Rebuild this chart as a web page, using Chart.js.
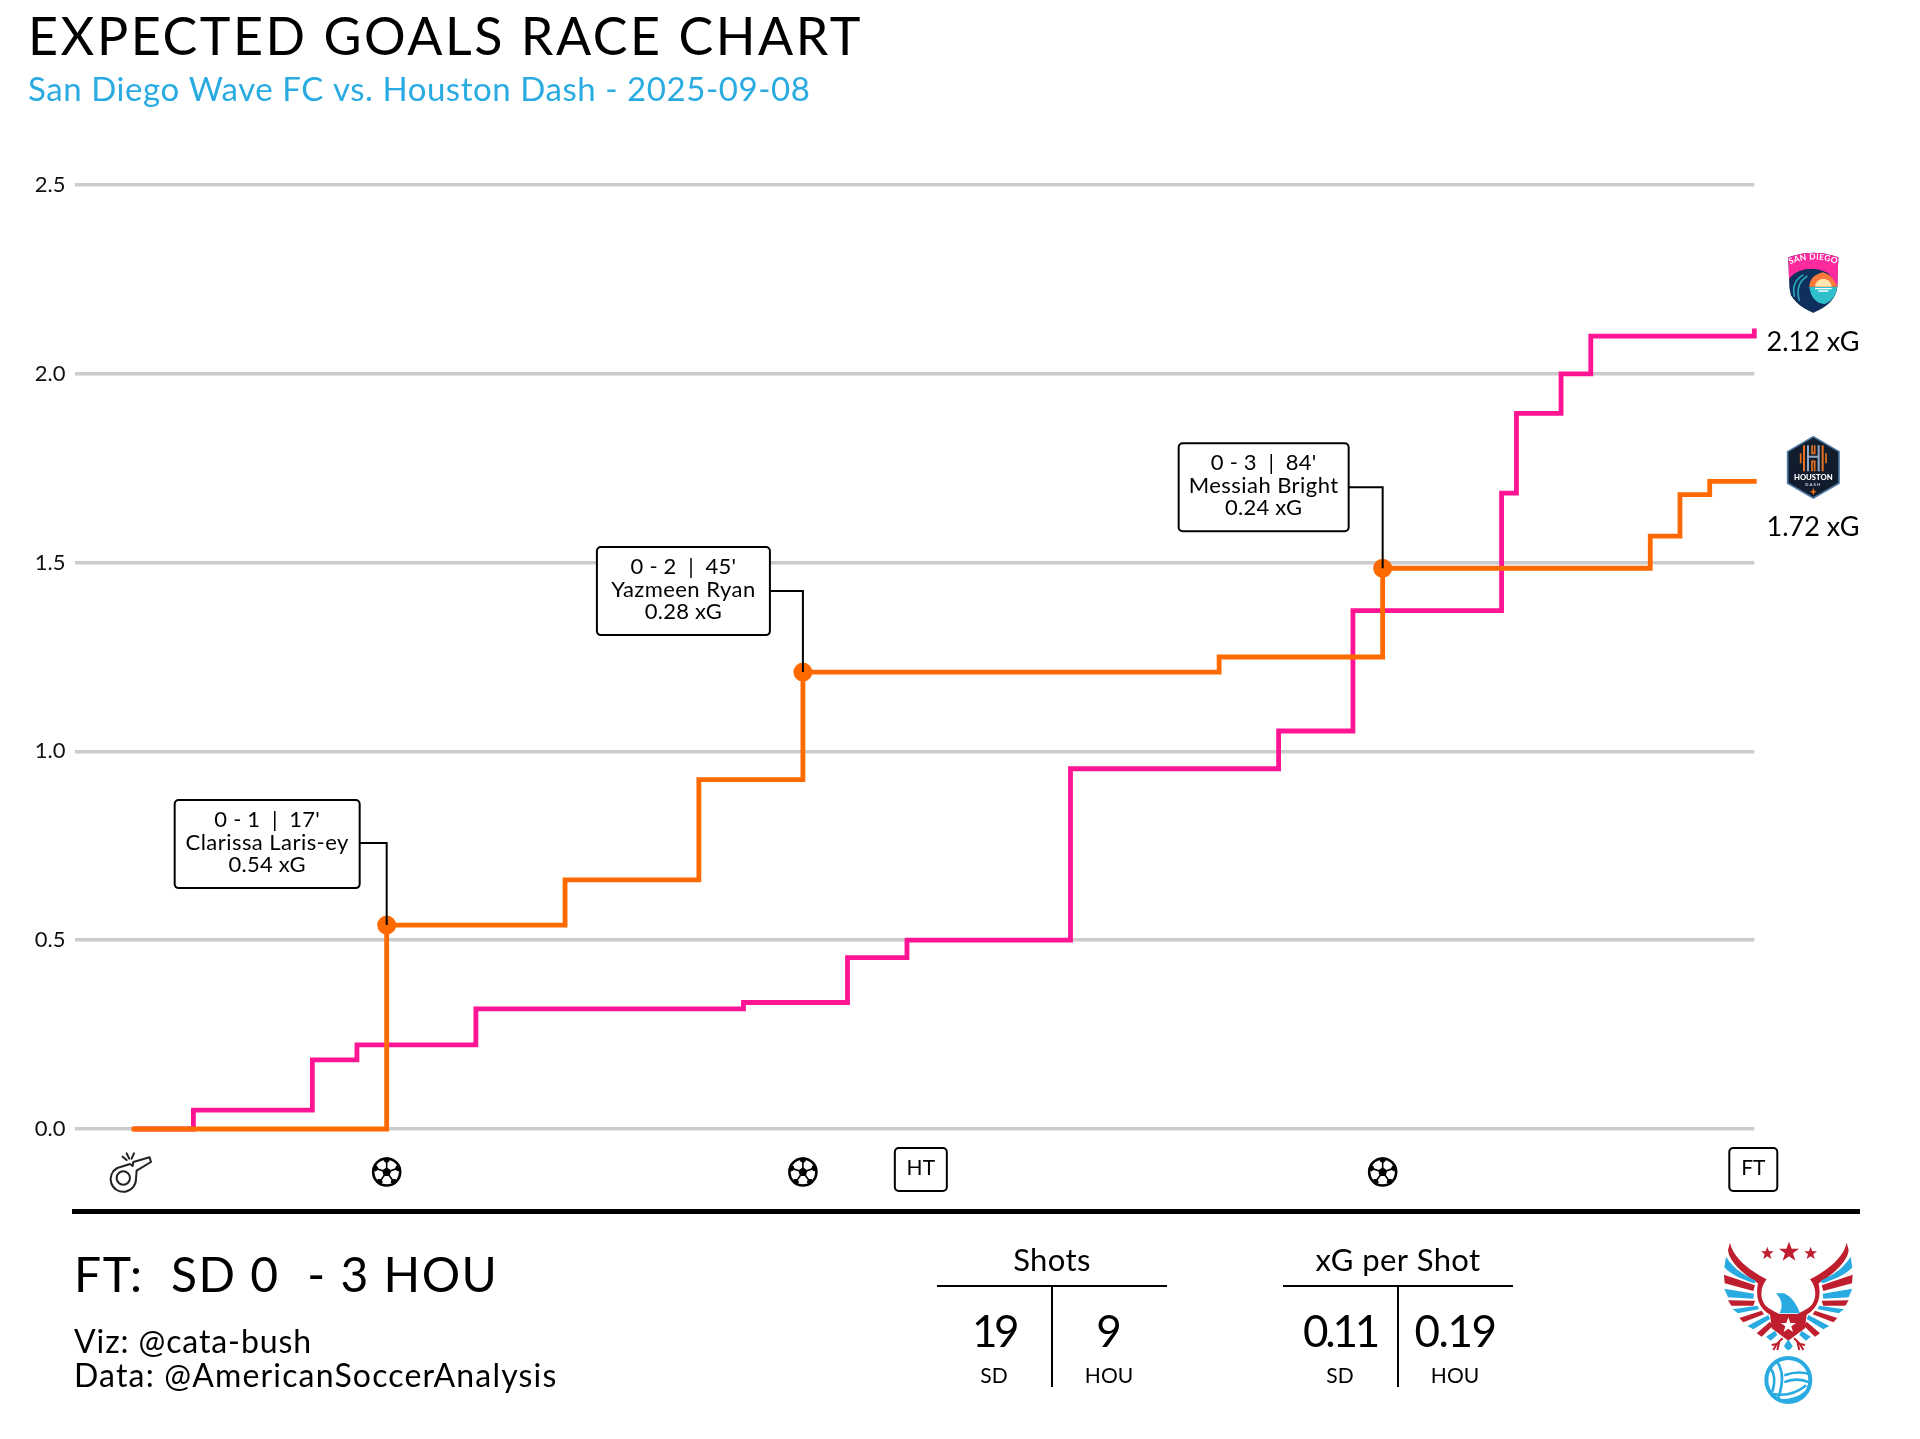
<!DOCTYPE html>
<html>
<head>
<meta charset="utf-8">
<title>Expected Goals Race Chart</title>
<script src="https://cdn.jsdelivr.net/npm/chart.js@4"></script>
<style>
html,body{margin:0;padding:0;background:#fff;width:1920px;height:1439px;overflow:hidden}
#wrap{position:relative;width:1920px;height:1439px}
canvas{position:absolute;left:0;top:0}
#logos{position:absolute;left:0;top:0;pointer-events:none}
</style>
</head>
<body>
<div id="wrap">
<canvas id="c" width="1920" height="1439"></canvas>
<svg id="logos" width="1920" height="1439" viewBox="0 0 1920 1439" xmlns="http://www.w3.org/2000/svg">
  <!-- San Diego crest -->
  <g transform="translate(1760,240) scale(0.3333)">
    <path d="M85,52 Q160,24 235,52 L232,140 Q228,190 160,218 Q92,190 88,140 Z" fill="#0f2f5c"/>
    <path d="M85,52 Q160,24 235,52 L232,140 L205,100 Q160,78 120,92 Q100,100 87,116 Z" fill="#ff2a9d"/>
    <path d="M232,140 Q228,178 195,192 Q155,190 148,140 Z" fill="#2fc0cc"/>
    <path d="M148,140 Q150,105 190,97 Q218,105 232,140 Z" fill="#ff7a3a"/>
    <path d="M165,140 Q168,118 190,116 Q212,118 215,140 Z" fill="#ffe6b0"/>
    <path d="M165,146 H215 M175,153 H205" stroke="#fff" stroke-width="4"/>
    <path d="M92,125 Q118,93 150,98 Q122,118 128,155 Q140,190 192,192 Q175,208 160,218 Q112,198 92,165 Z" fill="#0f2f5c"/>
    <path d="M104,170 Q92,128 130,104 M118,182 Q104,132 142,108" fill="none" stroke="#2aa7b8" stroke-width="5"/>
    <path id="sdArc" d="M92,72 Q160,45 228,72" fill="none"/>
    <text font-family="Lato" font-size="25" font-weight="700" fill="#fff" letter-spacing="1"><textPath href="#sdArc" startOffset="50%" text-anchor="middle">SAN DIEGO</textPath></text>
  </g>
  <!-- Houston crest -->
  <g transform="translate(1760,240) scale(0.3333)">
    <path d="M160,590 L237,635 L237,730 L160,774 L83,730 L83,635 Z" fill="#111d2d" stroke="#4f78a5" stroke-width="5"/>
    <path d="M132,616 V694 M188,616 V694" stroke="#e8701e" stroke-width="6" fill="none"/>
    <path d="M144,616 V694 M176,616 V694 M144,650 H176" stroke="#93aac4" stroke-width="6" fill="none"/>
    <path d="M156,616 V640 H164 V616 M156,694 V664 H164 V694" stroke="#e8701e" stroke-width="5" fill="none"/>
    <path d="M122,640 V670 M198,640 V670" stroke="#e8701e" stroke-width="5"/>
    <text x="160" y="720" text-anchor="middle" font-family="Lato" font-size="23" font-weight="900" fill="#fff">HOUSTON</text>
    <text x="160" y="738" text-anchor="middle" font-family="Lato" font-size="13" font-weight="700" letter-spacing="3" fill="#c8d2de">DASH</text>
    <path d="M160,744 L163,752 L170,755 L163,758 L160,766 L157,758 L150,755 L157,752Z" fill="#e8701e"/>
  </g>
  <!-- Publisher crest -->
  <g transform="translate(1720,1240) scale(0.3333)">
    <defs>
      <g id="wing">
        <path d="M30,8 C40,55 90,92 140,118 C122,140 118,172 135,195 C148,208 165,215 178,222 L172,236 C130,218 102,190 114,130 C85,112 28,72 24,30 Z" fill="#bf1e2e"/>
        <path d="M18,50 C40,85 70,105 108,122 L103,130 C70,120 30,102 13,82 Z" fill="#29abe2"/>
        <path d="M12,104 L105,136 L100,153 L14,130 Z" fill="#bf1e2e"/>
        <path d="M13,146 L102,161 L100,176 L24,172 Z" fill="#29abe2"/>
        <path d="M24,181 L105,182 L100,197 L34,197 Z" fill="#bf1e2e"/>
        <path d="M38,208 L112,197 L118,207 L54,220 Z" fill="#29abe2"/>
        <path d="M58,234 L125,212 L132,223 L70,247 Z" fill="#bf1e2e"/>
        <path d="M82,258 L145,225 L150,237 L100,268 Z" fill="#29abe2"/>
        <path d="M110,280 L150,245 L158,258 L125,290 Z" fill="#bf1e2e"/>
        <path d="M138,290 L165,272 L172,285 L152,302 Z" fill="#29abe2"/>
        <path d="M188,295 L170,312 L155,315 M178,305 L172,330 M170,312 L160,330" fill="none" stroke="#bf1e2e" stroke-width="6"/>
      </g>
    </defs>
    <use href="#wing"/>
    <use href="#wing" transform="translate(410,0) scale(-1,1)"/>
    <path d="M142,20 L147,34 L161,34 L150,43 L154,57 L142,49 L130,57 L134,43 L123,34 L137,34Z" fill="#bf1e2e"/>
    <path d="M272,20 L277,34 L291,34 L280,43 L284,57 L272,49 L260,57 L264,43 L253,34 L267,34Z" fill="#bf1e2e"/>
    <path d="M207,5 L215,26 L237,26 L219,40 L226,62 L207,49 L188,62 L195,40 L177,26 L199,26Z" fill="#bf1e2e"/>
    <path d="M168,160 L192,160 C215,170 232,195 240,220 L178,220 C190,200 186,178 168,160 Z" fill="#29abe2"/>
    <path d="M150,222 L260,222 L255,265 L205,302 L155,265 Z" fill="#bf1e2e"/>
    <path d="M205,232 L211,249 L228,249 L214,259 L219,276 L205,266 L191,276 L196,259 L182,249 L199,249Z" fill="#fff"/>
    <path d="M205,298 L218,318 Q205,342 192,318 Z" fill="#29abe2"/>
    <circle cx="205" cy="420" r="72" fill="#29abe2"/>
    <circle cx="205" cy="420" r="60" fill="#fff"/>
    <g fill="none" stroke="#29abe2" stroke-width="8" stroke-linecap="round">
      <path d="M172,366 Q198,405 176,470"/>
      <path d="M152,385 Q170,412 158,452"/>
      <path d="M196,405 Q232,392 268,402"/>
      <path d="M196,425 Q235,412 270,428"/>
      <path d="M160,462 Q212,472 256,438"/>
      <path d="M182,482 Q228,482 258,456"/>
    </g>
  </g>
</svg>
</div>
<script>
// ---------- chart values ----------
const sdMinutes  = [0, 4, 12, 15, 23, 41, 48, 52, 63, 77, 82, 92, 93, 96, 98, 109];
const sdXg       = [0, 0.05, 0.183, 0.223, 0.318, 0.335, 0.454, 0.50, 0.954, 1.054, 1.373, 1.684, 1.895, 2.00, 2.10, 2.12];
const houMinutes = [0, 17, 29, 38, 45, 73, 84, 102, 104, 106, 109];
const houXg      = [0, 0.54, 0.66, 0.925, 1.21, 1.25, 1.485, 1.57, 1.68, 1.715, 1.715];
const goalMinutes = [17, 45, 84];
const goalXg      = [0.54, 1.21, 1.485];
const goalHeads   = ["0 - 1  |  17'", "0 - 2  |  45'", "0 - 3  |  84'"];
const goalScorers = ["Clarissa Laris-ey", "Yazmeen Ryan", "Messiah Bright"];
const goalShotXg  = ["0.54 xG", "0.28 xG", "0.24 xG"];
const yTicks = [0, 0.5, 1.0, 1.5, 2.0, 2.5];
const kickoffMinute = 0, halfTimeMinute = 53, fullTimeMinute = 109;
const endLabels = ["2.12 xG", "1.72 xG"];
const titleText = "EXPECTED GOALS RACE CHART";
const subtitleText = "San Diego Wave FC vs. Houston Dash - 2025-09-08";
const scoreLine = "FT:  SD 0  - 3 HOU";
const creditLines = ["Viz: @cata-bush", "Data: @AmericanSoccerAnalysis"];
const statTitles = ["Shots", "xG per Shot"];
const statSd  = ["19", "0.11"];
const statHou = ["9", "0.19"];

// ---------- style ----------
const FONT = "Lato";
const PINK = "#ff1493", ORANGE = "#ff6a00", BLUE = "#29abe2";
// callout box placement, pixels relative to the goal point
const boxOffsets = [
  {left:-212, top:-125, w:185, h:88, leaderY:-82},
  {left:-206, top:-125, w:173, h:88, leaderY:-81},
  {left:-204, top:-125, w:170, h:88, leaderY:-81}
];
const statSdSpacing  = [-3.5, -3.2];
const statHouSpacing = [0, -1.5];

function txt(ctx, s, x, y, size, align, color, spacing){
  ctx.font = "400 " + size + "px " + FONT;
  ctx.letterSpacing = (spacing || 0) + "px";
  ctx.textAlign = align || "left";
  ctx.textBaseline = "middle";
  ctx.fillStyle = color || "#000";
  ctx.fillText(s, x, y);
  ctx.letterSpacing = "0px";
}
function ball(ctx, cx, cy, r){
  ctx.save();
  ctx.translate(cx, cy);
  ctx.beginPath(); ctx.arc(0,0,r,0,Math.PI*2); ctx.fillStyle="#fff"; ctx.fill();
  ctx.lineWidth=2.6; ctx.strokeStyle="#000"; ctx.stroke();
  ctx.fillStyle="#000";
  const penta=(px,py,pr,rot)=>{ctx.beginPath();for(let i=0;i<5;i++){const a=rot+i*2*Math.PI/5;const X=px+pr*Math.cos(a),Y=py+pr*Math.sin(a);i?ctx.lineTo(X,Y):ctx.moveTo(X,Y);}ctx.closePath();ctx.fill();};
  penta(0,0,r*0.36,-Math.PI/2);
  for(let i=0;i<5;i++){
    const a=-Math.PI/2+i*2*Math.PI/5;
    penta(r*0.88*Math.cos(a),r*0.88*Math.sin(a),r*0.24,a+Math.PI);
    ctx.lineWidth=1.6;
    ctx.beginPath();ctx.moveTo(r*0.3*Math.cos(a),r*0.3*Math.sin(a));ctx.lineTo(r*0.75*Math.cos(a),r*0.75*Math.sin(a));ctx.stroke();
  }
  ctx.restore();
}
function whistle(ctx, x, y){
  ctx.save();
  ctx.translate(x, y); ctx.scale(1/3,1/3);
  ctx.strokeStyle="#222"; ctx.lineWidth=6; ctx.lineCap="round"; ctx.lineJoin="round";
  ctx.stroke(new Path2D("M112,84 A38,38 0 1 0 168,118 L170,92 L213,66 L209,52 L160,66 L158,78 L150,72 Z"));
  ctx.beginPath(); ctx.arc(130,114,20,0,Math.PI*2); ctx.stroke();
  ctx.stroke(new Path2D("M128,50 L140,60 M140,40 L148,56 M162,40 L155,56"));
  ctx.restore();
}
function rbox(ctx,x,y,w,h,r){
  ctx.beginPath(); ctx.roundRect(x,y,w,h,r);
  ctx.fillStyle="#fff"; ctx.fill();
  ctx.lineWidth=2; ctx.strokeStyle="#000"; ctx.stroke();
}

const decorations = {
  id:"decorations",
  afterDatasetsDraw(chart){
    const ctx=chart.ctx, X=chart.scales.x, Y=chart.scales.y;
    ctx.save();
    // headings
    txt(ctx,titleText,28,38.7,52,"left","#000",2.55);
    txt(ctx,subtitleText,28,90.7,33,"left",BLUE,0.56);
    // goal callouts
    goalMinutes.forEach((m,i)=>{
      const px=X.getPixelForValue(m), py=Y.getPixelForValue(goalXg[i]), o=boxOffsets[i];
      const bx=px+o.left, by=py+o.top;
      ctx.beginPath(); ctx.lineWidth=2; ctx.strokeStyle="#000";
      ctx.moveTo(bx+o.w,py+o.leaderY); ctx.lineTo(px,py+o.leaderY); ctx.lineTo(px,py); ctx.stroke();
      rbox(ctx,bx,by,o.w,o.h,4);
      const cx=bx+o.w/2;
      txt(ctx,goalHeads[i],cx,by+20,22,"center","#000",0.2);
      txt(ctx,goalScorers[i],cx,by+42.5,22,"center","#000",0.45);
      txt(ctx,goalShotXg[i],cx,by+65,22,"center","#000",0.2);
    });
    // event row
    const rowY=1172;
    whistle(ctx,80+X.getPixelForValue(kickoffMinute)-134,1140);
    goalMinutes.forEach(m=>ball(ctx,X.getPixelForValue(m),rowY,13.5));
    [[halfTimeMinute,"HT",52],[fullTimeMinute,"FT",48]].forEach(([m,t,w])=>{
      const px=X.getPixelForValue(m);
      rbox(ctx,px-w/2-1,1148,w,43,4);
      txt(ctx,t,px-1,1168,21,"center");
    });
    // end-of-line labels
    txt(ctx,endLabels[0],1813,342,27,"center");
    txt(ctx,endLabels[1],1813,527,27,"center");
    // footer
    ctx.fillStyle="#000"; ctx.fillRect(72,1209,1788,5);
    txt(ctx,scoreLine,74,1276.5,48,"left","#000",1.5);
    txt(ctx,creditLines[0],74,1342.5,32,"left","#000",0.9);
    txt(ctx,creditLines[1],74,1376.5,32,"left","#000",1.17);
    [1052,1398].forEach((cx,i)=>{
      txt(ctx,statTitles[i],cx,1261,31,"center","#000",0.4);
      ctx.fillStyle="#000";
      ctx.fillRect(cx-115,1285,230,2);
      ctx.fillRect(cx-1,1286,2,101);
      txt(ctx,statSd[i],cx-58,1332.5,44,"center","#000",statSdSpacing[i]);
      txt(ctx,statHou[i],cx+57,1332.5,44,"center","#000",statHouSpacing[i]);
      txt(ctx,"SD",cx-58,1376.5,21,"center");
      txt(ctx,"HOU",cx+57,1376.5,21,"center");
    });
    ctx.restore();
  }
};

new Chart(document.getElementById("c"),{
  type:"line",
  data:{datasets:[
    {label:"Goals",data:goalMinutes.map((m,i)=>({x:m,y:goalXg[i]})),showLine:false,
     pointRadius:9.5,pointBackgroundColor:ORANGE,pointBorderWidth:0,clip:false},
    {label:"Houston Dash",data:houMinutes.map((m,i)=>({x:m,y:houXg[i]})),stepped:"before",
     borderColor:ORANGE,borderWidth:4.8,pointRadius:0,borderCapStyle:"square",borderJoinStyle:"miter",clip:false},
    {label:"San Diego Wave FC",data:sdMinutes.map((m,i)=>({x:m,y:sdXg[i]})),stepped:"before",
     borderColor:PINK,borderWidth:4.8,pointRadius:0,borderCapStyle:"butt",borderJoinStyle:"miter",clip:false}
  ]},
  options:{
    responsive:false,animation:false,devicePixelRatio:1,
    layout:{padding:{left:29,right:165.7,top:185,bottom:310}},
    plugins:{legend:{display:false},tooltip:{enabled:false},title:{display:false},subtitle:{display:false}},
    scales:{
      x:{type:"linear",display:false,min:-4,max:109},
      y:{min:0,max:2.5,
        afterFit(s){s.width=45.5;},
        afterBuildTicks(s){s.ticks=yTicks.map(v=>({value:v}));},
        grid:{color:"#cccccc",lineWidth:3.5,drawTicks:false},
        border:{display:false},
        ticks:{color:"#111",padding:9,font:{family:FONT,size:22},callback:v=>v.toFixed(1)}
      }
    }
  },
  plugins:[decorations]
});
</script>
</body>
</html>
